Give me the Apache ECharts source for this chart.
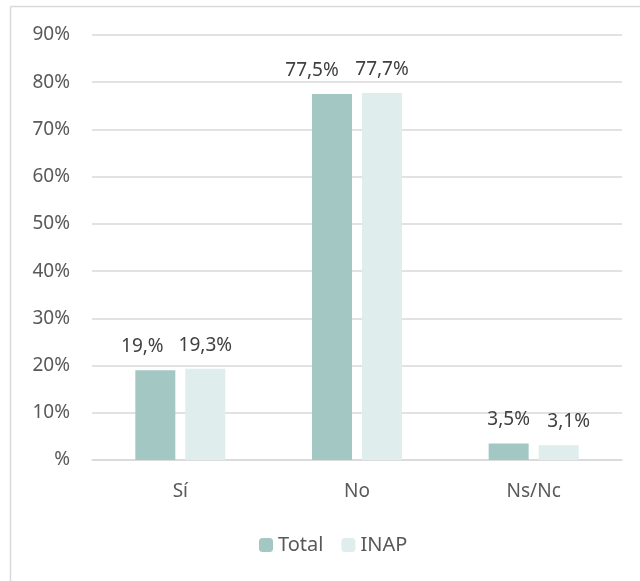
<!DOCTYPE html>
<html>
<head>
<meta charset="utf-8">
<script src="https://cdn.jsdelivr.net/npm/echarts@6/dist/echarts.min.js"></script>
<style>html,body{margin:0;padding:0;background:#fff}#c{width:640px;height:581px}</style>
</head>
<body>
<div id="c"></div>
<script>
var categories = ['Sí', 'No', 'Ns/Nc'];
var totalValues = [19.0, 77.5, 3.5];
var inapValues = [19.3, 77.7, 3.1];
var totalLabels = ['19,%', '77,5%', '3,5%'];
var inapLabels = ['19,3%', '77,7%', '3,1%'];
var yTicks = [0, 10, 20, 30, 40, 50, 60, 70, 80, 90];

var chart = echarts.init(document.getElementById('c'));
var font = 'Noto Sans';
var totalShift = [-13, -20, 0];
var inapShift = [0, 0, 10];
function mk(vals, shifts) {
  return vals.map(function (v, i) {
    return { value: v, label: { offset: [shifts[i], 0] } };
  });
}
chart.setOption({
  animation: false,
  grid: { left: 92, right: 18, top: 35, bottom: 121 },
  legend: {
    bottom: 21, left: 254,
    itemWidth: 14, itemHeight: 14, itemGap: 18,
    textStyle: { color: '#595959', fontSize: 20, fontFamily: font },
    data: ['Total', 'INAP']
  },
  xAxis: {
    type: 'category', data: categories,
    axisLine: { lineStyle: { color: '#d9d9d9', width: 1.5 } },
    axisTick: { show: false },
    axisLabel: { color: '#595959', fontSize: 19, fontFamily: font, margin: 22 }
  },
  yAxis: {
    type: 'value', min: 0, max: 90, interval: 10,
    axisLine: { show: false }, axisTick: { show: false },
    splitLine: { lineStyle: { color: '#d9d9d9', width: 1.5 } },
    axisLabel: {
      color: '#595959', fontSize: 19, fontFamily: font, margin: 22,
      formatter: function (v) { return yTicks.indexOf(v) >= 0 ? (v === 0 ? '%' : v + '%') : ''; }
    }
  },
  series: [
    {
      name: 'Total', type: 'bar', data: mk(totalValues, totalShift), barWidth: 40, barGap: '25%',
      itemStyle: { color: '#a3c8c4' },
      label: { show: true, position: 'top', distance: 14, color: '#404040', fontSize: 19, fontFamily: font,
        formatter: function (p) { return totalLabels[p.dataIndex]; } }
    },
    {
      name: 'INAP', type: 'bar', data: mk(inapValues, inapShift), barWidth: 40,
      itemStyle: { color: '#e0eded' },
      label: { show: true, position: 'top', distance: 14, color: '#404040', fontSize: 19, fontFamily: font,
        formatter: function (p) { return inapLabels[p.dataIndex]; } }
    }
  ],
  graphic: [
    { type: 'line', shape: { x1: 10.5, y1: 6.5, x2: 640, y2: 6.5 }, style: { stroke: '#d9d9d9', lineWidth: 1.5 } },
    { type: 'line', shape: { x1: 10.5, y1: 6.5, x2: 10.5, y2: 581 }, style: { stroke: '#d9d9d9', lineWidth: 1.5 } }
  ]
});
</script>
</body>
</html>
